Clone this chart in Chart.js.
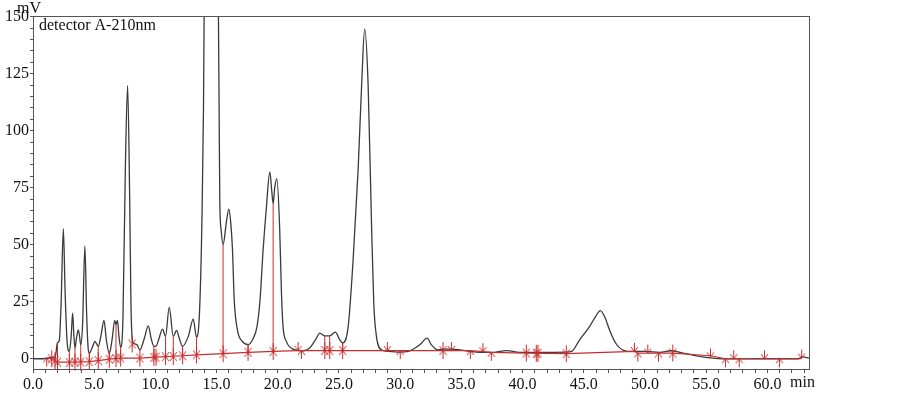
<!DOCTYPE html>
<html>
<head>
<meta charset="utf-8">
<script src="https://cdn.jsdelivr.net/npm/chart.js@4.4.0/dist/chart.umd.min.js"></script>
<style>
    html, body { margin: 0; padding: 0; background: #fff; }
    #wrap { width: 903px; height: 398px; }
</style>
</head>
<body>
<div id="wrap"><canvas id="chromChart"></canvas></div>
<script>
// detector trace, time in min / signal in mV
const sigTime = [0, 0.5, 1.0, 1.3, 1.6, 1.8, 2.0, 2.15, 2.3, 2.48, 2.62, 2.78, 2.97, 3.12, 3.24, 3.34, 3.43, 3.55, 3.7, 3.8,
    3.9, 4.05, 4.24, 4.38, 4.5, 4.6, 4.85, 5.06, 5.2, 5.33, 5.55, 5.8, 6.0, 6.23, 6.45, 6.68, 6.78, 6.9, 7.02, 7.16,
    7.35, 7.55, 7.73, 7.9, 8.0, 8.1, 8.2, 8.5, 8.73, 9.1, 9.42, 9.65, 9.88, 10.05, 10.3, 10.58, 10.83, 11.13, 11.46, 11.73,
    11.95, 12.22, 12.7, 13.09, 13.36, 13.6, 13.8, 13.93, 13.98, 14.1, 14.55, 15.05, 15.15, 15.2, 15.26, 15.38, 15.53, 15.8, 16.0, 16.15,
    16.3, 16.44, 16.7, 17.1, 17.57, 18.0, 18.3, 18.55, 18.8, 19.05, 19.35, 19.5, 19.62, 19.75, 19.92, 20.15, 20.3, 20.43, 20.7, 21.25,
    22.07, 22.6, 23.1, 23.43, 23.84, 24.24, 24.7, 25.06, 25.3, 25.75, 26.15, 26.56, 26.85, 27.1, 27.38, 27.65, 27.84, 28.06, 28.47, 28.88,
    29.96, 30.65, 31.6, 32.2, 32.55, 33.1, 33.5, 34.2, 34.85, 35.7, 36.5, 37.6, 38.7, 39.75, 41.9, 43.57, 44.0, 44.66, 45.47, 45.96,
    46.35, 46.7, 47.1, 47.6, 48.3, 49.0, 50.1, 51.2, 52.1, 53.1, 54.2, 54.8, 56.6, 59.3, 62.5, 62.9, 63.4];
const sigMv = [0, 0, 0.1, 0.4, 0.6, 0.3, 7, 8, 25, 57, 30, 8, 3.2, 10, 20, 10, 4.7, 9, 12.7, 10,
    6, 15, 49.5, 20, 5, 2.5, 5, 7.6, 6.5, 5.4, 10, 16.8, 8, 2.2, 8, 16.8, 15, 16.8, 10, 5,
    18, 85, 119.8, 70, 25, 9, 6.9, 6.1, 3.9, 9, 14.4, 9, 5.4, 5.5, 9, 13, 9.8, 22.6, 9.8, 12.4,
    9, 5.4, 10, 17.4, 9.5, 20, 60, 110, 150, 260, 330, 260, 150, 115, 70, 56, 50, 60, 65.6, 60,
    47.7, 25.8, 12.7, 7.6, 6.2, 9, 14.1, 25.8, 47.7, 65, 81.9, 74, 68, 75, 79, 57.8, 28.7, 14.1, 7.6, 4.2,
    3.5, 4.7, 8.5, 11.2, 10, 10, 11.7, 8.3, 6.9, 14.1, 43, 82.6, 120, 144.6, 120, 60.8, 24.4, 9.8, 3.9, 3.3,
    2.9, 3.2, 6.1, 9, 6.1, 3.9, 4.2, 4.2, 3.9, 3.2, 2.8, 2.8, 3.6, 2.8, 2.8, 2.9, 3.2, 8.3, 14.1, 18.5,
    21.1, 18.5, 12.7, 6.9, 3.6, 3.2, 3.2, 2.8, 3.5, 2.5, 1.3, 0.7, -0.1, 0, 0, 0.8, 0.3];

// integration baseline
const baseTime = [1.1, 1.53, 2.0, 3.43, 4.6, 5.33, 6.23, 7.16, 8.73, 10.05, 12.22, 13.36, 15.53, 17.57, 19.62, 21.66,
    33.5, 35.73, 36.76, 37.44, 40.3, 43.57, 49.14, 49.41, 52.27, 55.35, 56.57, 62.8];
const baseMv = [0.3, 0.0, -1.5, -1.5, -1.3, -0.8, -0.2, 0.3, 0.3, 0.7, 1.3, 1.7, 2.2, 2.8, 3.2, 3.6,
    3.6, 3.6, 3.1, 2.8, 2.5, 2.2, 3.2, 2.5, 2.5, 1.3, 0, 0];

// peak separation drop lines
const dropTime = [2.0, 2.97, 3.43, 3.9, 4.6, 5.33, 6.23, 6.78, 7.16, 9.88, 10.83, 11.46, 12.22, 13.36, 15.53, 17.57, 19.62, 23.84, 24.24, 25.3];
const dropBase = [-1.5, -1.6, -1.5, -1.5, -1.3, -0.8, -0.2, 0.1, 0.3, 0.6, 0.9, 1.0, 1.3, 1.7, 2.2, 2.8, 3.2, 3.6, 3.6, 3.6];
const dropTop = [7, 3.2, 4.7, 6, 2.5, 5.4, 2.2, 15, 5, 5.4, 9.8, 9.8, 5.4, 9.5, 50, 6.2, 68, 10, 10, 6.9];

// peak start / end marks
const downTime = [1.53, 1.8, 2.0, 2.97, 3.43, 3.9, 4.6, 5.33, 6.23, 6.78, 7.16, 8.1, 8.73, 9.88, 10.05, 10.83, 11.46, 12.22, 13.36, 15.53,
    17.57, 19.62, 21.66, 23.84, 24.24, 25.3, 28.95, 33.5, 34.18, 36.76, 40.3, 41.12, 41.25, 43.57, 49.14, 50.23, 52.27, 55.35, 57.25, 59.76, 62.8];
const downMv = [0.0, -0.8, -1.5, -1.6, -1.5, -1.5, -1.3, -0.8, -0.2, 0.1, 0.3, 6.5, 0.3, 0.6, 0.7, 0.9, 1.0, 1.3, 1.7, 2.2,
    2.8, 3.2, 3.6, 3.6, 3.6, 3.6, 3.6, 3.6, 3.6, 3.1, 2.5, 2.4, 2.4, 2.2, 3.2, 2.5, 2.5, 0.8, 0, 0, 0.3];
const upTime = [1.12, 1.53, 1.8, 2.0, 2.97, 3.43, 3.9, 4.6, 5.33, 6.23, 6.78, 7.16, 8.1, 8.73, 9.88, 10.05, 10.83, 11.46, 12.22, 13.36,
    15.53, 17.57, 19.62, 21.93, 23.84, 24.24, 25.3, 30.0, 33.5, 35.73, 37.44, 40.3, 41.12, 41.25, 43.57, 49.41, 51.1, 52.27, 56.57, 57.7, 60.98];
const upMv = [0.3, 0.0, -0.8, -1.5, -1.6, -1.5, -1.5, -1.3, -0.8, -0.2, 0.1, 0.3, 6.5, 0.3, 0.6, 0.7, 0.9, 1.0, 1.3, 1.7,
    2.2, 2.8, 3.2, 3.6, 3.6, 3.6, 3.6, 3.6, 3.6, 3.6, 2.8, 2.5, 2.4, 2.4, 2.2, 2.5, 2.5, 2.5, 0, 0, 0];

const xLabels = [0, 5, 10, 15, 20, 25, 30, 35, 40, 45, 50, 55, 60];
const yLabels = [0, 25, 50, 75, 100, 125, 150];

const RED = 'rgb(200,45,45)';
const TRACE = '#3a3a3a';
const FONT = '"Liberation Serif", "Times New Roman", serif';

function arrowMark(dir) {
    const c = document.createElement('canvas');
    c.width = 9;
    c.height = 19;
    const g = c.getContext('2d');
    g.strokeStyle = RED;
    g.lineWidth = 1;
    g.beginPath();
    if (dir === 'down') {
        g.moveTo(4.5, 1); g.lineTo(4.5, 9.5);
        g.moveTo(1, 5); g.lineTo(4.5, 9.5); g.lineTo(8, 5);
    } else {
        g.moveTo(4.5, 18); g.lineTo(4.5, 9.5);
        g.moveTo(1, 14); g.lineTo(4.5, 9.5); g.lineTo(8, 14);
    }
    g.stroke();
    return c;
}

const zip = (xs, ys) => xs.map((x, i) => ({ x: x, y: ys[i] }));

const dropPoints = [];
dropTime.forEach((t, i) => {
    dropPoints.push({ x: t, y: dropBase[i] }, { x: t, y: dropTop[i] }, { x: t, y: null });
});

// frame + free text (mV, detector name, min)
const framePlugin = {
    id: 'frame',
    afterDraw(chart) {
        const { ctx, chartArea: a } = chart;
        ctx.save();
        ctx.strokeStyle = '#555';
        ctx.lineWidth = 1;
        ctx.strokeRect(a.left + 0.5, a.top + 0.5, a.right - a.left, a.bottom - a.top);
        ctx.fillStyle = '#111';
        ctx.font = '16px ' + FONT;
        ctx.textBaseline = 'middle';
        ctx.textAlign = 'left';
        ctx.fillText('mV', 17, 9);
        ctx.fillText('detector A-210nm', a.left + 6, a.top + 10);
        ctx.fillText('min', a.right - 19, 383);
        ctx.restore();
    }
};

new Chart(document.getElementById('chromChart').getContext('2d'), {
    type: 'line',
    data: {
        datasets: [
            {
                label: 'down',
                data: zip(downTime, downMv),
                showLine: false,
                pointStyle: arrowMark('down'),
                pointRadius: 5,
                clip: false,
                order: 0
            },
            {
                label: 'up',
                data: zip(upTime, upMv),
                showLine: false,
                pointStyle: arrowMark('up'),
                pointRadius: 5,
                clip: false,
                order: 0
            },
            {
                label: 'drops',
                data: dropPoints,
                borderColor: RED,
                borderWidth: 1,
                pointRadius: 0,
                spanGaps: false,
                order: 1
            },
            {
                label: 'baseline',
                data: zip(baseTime, baseMv),
                borderColor: RED,
                borderWidth: 1.2,
                pointRadius: 0,
                tension: 0,
                order: 1
            },
            {
                label: 'detector A-210nm',
                data: zip(sigTime, sigMv),
                borderColor: TRACE,
                borderWidth: 1.3,
                pointRadius: 0,
                cubicInterpolationMode: 'monotone',
                order: 2
            }
        ]
    },
    options: {
        responsive: true,
        maintainAspectRatio: false,
        animation: false,
        events: [],
        layout: { padding: { top: 16, right: 94, left: 0, bottom: 0 } },
        plugins: {
            legend: { display: false },
            tooltip: { enabled: false }
        },
        scales: {
            x: {
                type: 'linear',
                min: 0,
                max: 63.4,
                afterFit: (s) => { s.height = 29; },
                grid: { drawOnChartArea: false, tickLength: 4, color: '#555' },
                border: { display: true, color: '#555' },
                ticks: {
                    stepSize: 1,
                    autoSkip: false,
                    includeBounds: false,
                    maxRotation: 0,
                    padding: 2,
                    color: '#111',
                    font: { family: FONT, size: 16 },
                    callback: (v) => xLabels.includes(v) ? v.toFixed(1) : ''
                }
            },
            y: {
                min: -4.5,
                max: 150.3,
                afterFit: (s) => { s.width = 33; },
                grid: { drawOnChartArea: false, tickLength: 3, color: '#555' },
                border: { display: true, color: '#555' },
                ticks: {
                    stepSize: 5,
                    autoSkip: false,
                    includeBounds: false,
                    padding: 1,
                    color: '#111',
                    font: { family: FONT, size: 16 },
                    callback: (v) => yLabels.includes(v) ? String(v) : ''
                }
            }
        }
    },
    plugins: [framePlugin]
});
</script>
</body>
</html>
